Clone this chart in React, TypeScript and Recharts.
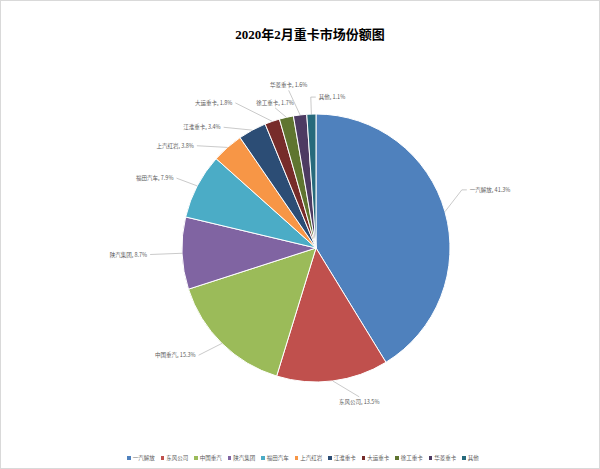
import React from 'react';
import { PieChart, Pie, Cell, Legend } from 'recharts';

const brands = ['一汽解放', '东风公司', '中国重汽', '陕汽集团', '福田汽车', '上汽红岩', '江淮重卡', '大运重卡', '徐工重卡', '华菱重卡', '其他'];
const shares = [41.3, 13.5, 15.3, 8.7, 7.9, 3.8, 3.4, 1.8, 1.7, 1.6, 1.1];
const colors = ['#4F81BD', '#C0504D', '#9BBB59', '#8064A2', '#4BACC6', '#F79646', '#2C4D75', '#772C2A', '#5F7530', '#4D3B62', '#276A7C'];

const data = brands.map((name, i) => ({ name, value: shares[i] }));

// where each data label sits: extra radius past the pie edge, angle nudge, side of text
const labelLayout: { ext: number; shift: number; side: 'left' | 'right' | 'top' | 'bottom' }[] = [
  { ext: 23, shift: 6, side: 'right' },
  { ext: 21, shift: 9, side: 'bottom' },
  { ext: 25, shift: -3, side: 'left' },
  { ext: 32, shift: 0, side: 'left' },
  { ext: 22, shift: 1, side: 'left' },
  { ext: 23, shift: 8, side: 'left' },
  { ext: 18, shift: 9, side: 'left' },
  { ext: 32, shift: 10, side: 'left' },
  { ext: 12, shift: 3.5, side: 'top' },
  { ext: 26, shift: 3, side: 'top' },
  { ext: 17, shift: 0, side: 'right' },
];

const RAD = Math.PI / 180;
const polar = (cx: number, cy: number, r: number, a: number) => ({ x: cx + r * Math.cos(-a * RAD), y: cy + r * Math.sin(-a * RAD) });

const labelFont = '"Noto Sans CJK SC", "Noto Sans", sans-serif';

const SliceLabel = (props: any) => {
  const { cx, cy, midAngle, outerRadius, index, name, value } = props;
  const lay = labelLayout[index];
  const p0 = polar(cx, cy, outerRadius, midAngle);
  const p1 = polar(cx, cy, outerRadius + lay.ext, midAngle + lay.shift);
  const text = `${name}, ${value}%`;
  let pts = `${p0.x},${p0.y} ${p1.x},${p1.y}`;
  let tx = p1.x;
  let ty = p1.y;
  let anchor: 'start' | 'end' | 'middle' = 'middle';
  if (lay.side === 'right') {
    pts += ` ${p1.x + 5},${p1.y}`;
    tx = p1.x + 8;
    anchor = 'start';
  } else if (lay.side === 'left') {
    tx = p1.x - 3;
    anchor = 'end';
  } else if (lay.side === 'top') {
    ty = p1.y - 5;
  } else {
    ty = p1.y + 5;
  }
  return (
    <g>
      <polyline points={pts} fill="none" stroke="#a6a6a6" strokeWidth={0.6} />
      <text x={tx} y={ty} textAnchor={anchor} dominantBaseline="central" fontSize={5.5} fill="#595959" fontFamily={labelFont}>
        {text}
      </text>
    </g>
  );
};

const LegendRow = () => (
  <div style={{ display: 'flex', justifyContent: 'center', gap: 6, fontFamily: labelFont, fontSize: 5.5, color: '#595959', paddingLeft: 6 }}>
    {brands.map((b, i) => (
      <span key={b} style={{ display: 'flex', alignItems: 'center', gap: 2 }}>
        <span style={{ width: 3.5, height: 3.5, background: colors[i], display: 'inline-block' }} />
        {b}
      </span>
    ))}
  </div>
);

export default function App() {
  return (
    <div style={{ position: 'absolute', left: 0, top: 0, width: 600, height: 469, boxSizing: 'border-box', border: '1px solid #d9d9d9', background: '#fff' }}>
      <div style={{ position: 'absolute', top: 23, left: 10, width: '100%', textAlign: 'center', fontFamily: '"Liberation Serif", "Noto Sans CJK SC", serif', fontWeight: 'bold', fontSize: 13, color: '#000' }}>
        2020年2月重卡市场份额图
      </div>
      <PieChart width={598} height={467}>
        <Pie
          data={data}
          dataKey="value"
          nameKey="name"
          cx={310}
          cy={242}
          outerRadius={134}
          startAngle={90}
          endAngle={-270}
          stroke="#fff"
          strokeWidth={1}
          label={SliceLabel}
          labelLine={false}
          isAnimationActive={false}
        >
          {data.map((d, i) => (
            <Cell key={d.name} fill={colors[i]} />
          ))}
        </Pie>
        <Legend content={<LegendRow />} wrapperStyle={{ top: 453, left: 0, width: 598 }} />
      </PieChart>
    </div>
  );
}
